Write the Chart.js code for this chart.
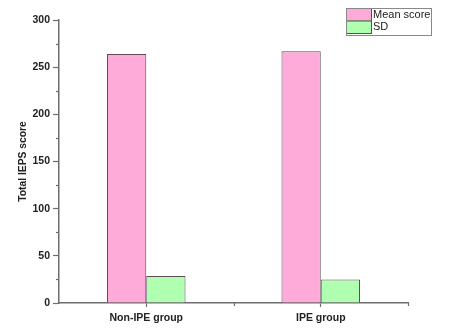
<!DOCTYPE html>
<html><head><meta charset="utf-8">
<script src="https://cdn.jsdelivr.net/npm/chart.js@4/dist/chart.umd.min.js"></script>
<style>html,body{margin:0;padding:0;background:#fff}#w{width:463px;height:332px}</style>
</head><body><div id="w"><canvas id="c"></canvas></div>
<script>
const categories = ["Non-IPE group", "IPE group"];
const seriesNames = ["Mean score", "SD"];
const meanScore = [264, 267];
const sdValues = [28.5, 25];
const yTicks = [0, 50, 100, 150, 200, 250, 300];

const pink = '#ffabd9', green = '#b0ffb0', edge = '#5e4b57', axisCol = '#6e6e6e';
const FONT = '"Liberation Sans", Arial, sans-serif';

const extras = {
  id: 'extras',
  afterDraw(chart) {
    const ctx = chart.ctx, ca = chart.chartArea, y = chart.scales.y, x = chart.scales.x;
    ctx.save();
    ctx.strokeStyle = axisCol; ctx.lineWidth = 1.2;
    for (let i = 0; i < yTicks.length - 1; i++) {
      const v = (yTicks[i] + yTicks[i + 1]) / 2;
      const py = Math.round(y.getPixelForValue(v)) + 0.5;
      ctx.beginPath(); ctx.moveTo(ca.left - 3, py); ctx.lineTo(ca.left, py); ctx.stroke();
    }
    const xs = [x.getPixelForValue(0.5), ca.right];
    xs.forEach(px => { px = Math.round(px) + 0.5; ctx.beginPath(); ctx.moveTo(px, ca.bottom); ctx.lineTo(px, ca.bottom + 3); ctx.stroke(); });
    const lx = 346, ly = 8, sw = 25, rh = 12.5, bw = 85;
    const cols = [pink, green];
    ctx.lineWidth = 1; ctx.strokeStyle = edge;
    seriesNames.forEach((n, i) => {
      ctx.fillStyle = cols[i];
      ctx.fillRect(lx, ly + i * rh, sw, rh);
      ctx.strokeRect(lx + 0.5, ly + i * rh + 0.5, sw, rh);
      ctx.fillStyle = '#222'; ctx.font = '11px ' + FONT; ctx.textBaseline = 'middle';
      ctx.fillText(n, lx + sw + 2, ly + i * rh + rh / 2 + 0.5);
    });
    ctx.strokeStyle = '#888';
    ctx.strokeRect(lx + 0.5, ly + 0.5, bw, 2 * rh + 2);
    ctx.restore();
  }
};

new Chart(document.getElementById('c'), {
  type: 'bar',
  data: {
    labels: categories,
    datasets: [
      { label: seriesNames[0], data: meanScore, backgroundColor: pink, borderColor: edge, borderWidth: 1 },
      { label: seriesNames[1], data: sdValues, backgroundColor: green, borderColor: edge, borderWidth: 1 }
    ]
  },
  options: {
    responsive: true, maintainAspectRatio: false, animation: false,
    layout: { padding: { left: 0, right: 55, top: 20, bottom: 0 } },
    categoryPercentage: 0.45, barPercentage: 1,
    plugins: { legend: { display: false }, tooltip: { enabled: false } },
    scales: {
      x: {
        offset: true,
        grid: { display: true, drawOnChartArea: false, offset: false, tickLength: 4, tickColor: axisCol, tickWidth: 1.2 },
        border: { display: true, color: axisCol, width: 1.5 },
        ticks: { color: '#222', font: { family: FONT, size: 10.5, weight: 'bold' }, padding: 5, maxRotation: 0 },
        afterFit(s) { s.height = 29; }
      },
      y: {
        min: 0, max: 300,
        afterBuildTicks(s) { s.ticks = yTicks.map(v => ({ value: v })); },
        grid: { display: true, drawOnChartArea: false, tickLength: 6, tickColor: axisCol, tickWidth: 1.2 },
        border: { display: true, color: axisCol, width: 1.5 },
        ticks: { color: '#222', font: { family: FONT, size: 10.5, weight: 'bold' }, padding: 3 },
        title: { display: true, text: 'Total IEPS score', color: '#222', font: { family: FONT, size: 10.3, weight: 'bold' }, padding: { top: 17, bottom: 0 } },
        afterFit(s) { s.width = 59; }
      }
    }
  },
  plugins: [extras]
});
</script></body></html>
